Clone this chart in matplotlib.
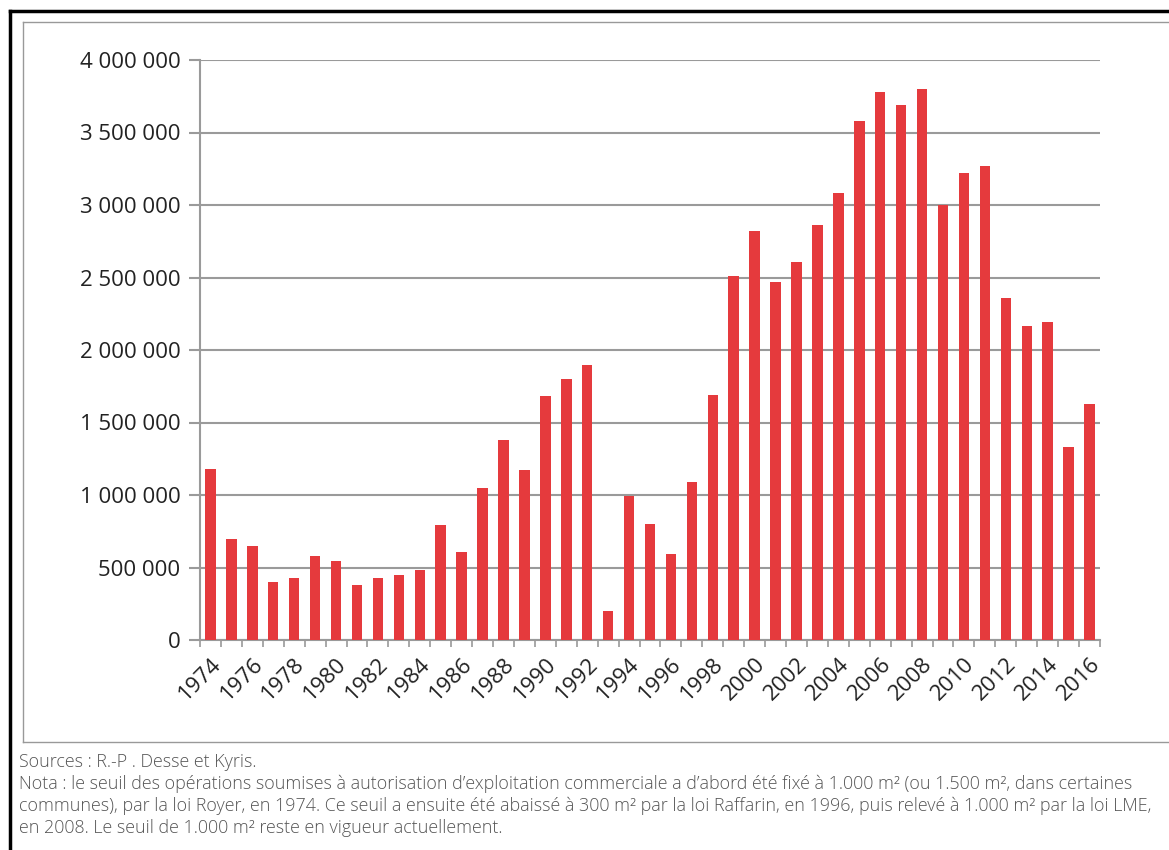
import numpy as np
import matplotlib.pyplot as plt
from matplotlib.lines import Line2D

years = list(range(1974, 2017))
surfaces = [1180000, 700000, 650000, 400000, 430000, 580000, 545000, 380000, 430000, 450000,
            480000, 790000, 610000, 1050000, 1380000, 1170000, 1680000, 1800000, 1900000, 200000,
            990000, 800000, 590000, 1090000, 1690000, 2510000, 2820000, 2470000, 2610000, 2860000,
            3080000, 3580000, 3780000, 3690000, 3800000, 3000000, 3220000, 3270000, 2360000, 2165000,
            2190000, 1330000, 1630000]
y_ticks = [0, 500000, 1000000, 1500000, 2000000, 2500000, 3000000, 3500000, 4000000]

notes = ["Sources : R.-P . Desse et Kyris.",
         "Nota : le seuil des opérations soumises à autorisation d\u2019exploitation commerciale a d\u2019abord été fixé à 1.000 m² (ou 1.500 m², dans certaines",
         "communes), par la loi Royer, en 1974. Ce seuil a ensuite été abaissé à 300 m² par la loi Raffarin, en 1996, puis relevé à 1.000 m² par la loi LME,",
         "en 2008. Le seuil de 1.000 m² reste en vigueur actuellement."]

plt.rcParams['font.family'] = ['Open Sans', 'DejaVu Sans']

W, H = 1169, 850
fig = plt.figure(figsize=(W/100, H/100), dpi=100)
ax = fig.add_axes([200/W, 1-640/H, 900/W, 580/H])

x = np.arange(len(years))
ax.bar(x, surfaces, width=0.5, color='#e53a3d', zorder=3)

ax.set_xlim(-0.5, len(years)-0.5)
ax.set_ylim(0, 4000000)
ax.set_yticks(y_ticks)
ax.set_yticklabels([f"{v:,}".replace(",", " ") for v in y_ticks], fontsize=16, color='#222222')
ax.yaxis.grid(True, color='#9a9a9a', linewidth=1.5, zorder=0)
ax.tick_params(axis='y', length=8, width=1.5, color='#9a9a9a', pad=6)

ax.set_xticks(x[::2])
ax.set_xticklabels([str(y) for y in years[::2]], rotation=45, ha='right',
                   rotation_mode='anchor', fontsize=16, color='#222222')
ax.tick_params(axis='x', length=0, pad=10)
ax.set_xticks(np.arange(-0.5, len(years)), minor=True)
ax.tick_params(axis='x', which='minor', length=5, width=1.2, color='#9a9a9a')

for s in ['top', 'right']:
    ax.spines[s].set_visible(False)
for s in ['left', 'bottom']:
    ax.spines[s].set_color('#9a9a9a')
    ax.spines[s].set_linewidth(1.5)

# frames around the figure
fig.add_artist(Line2D([10/W, 1], [1-11/H, 1-11/H], color='black', linewidth=2.5))
fig.add_artist(Line2D([10/W, 10/W], [0, 1-11/H], color='black', linewidth=2.5))
fig.add_artist(Line2D([23/W, 1], [1-22/H, 1-22/H], color='#999999', linewidth=1))
fig.add_artist(Line2D([23/W, 23/W], [1-742/H, 1-22/H], color='#999999', linewidth=1))
fig.add_artist(Line2D([23/W, 1], [1-742/H, 1-742/H], color='#999999', linewidth=1))

for i, t in enumerate(notes):
    fig.text(19/W, 1-(762+22*i)/H, t, fontsize=12.85, fontweight='light',
             color='#555555', va='center', ha='left')

fig.savefig('out.png', dpi=100)
